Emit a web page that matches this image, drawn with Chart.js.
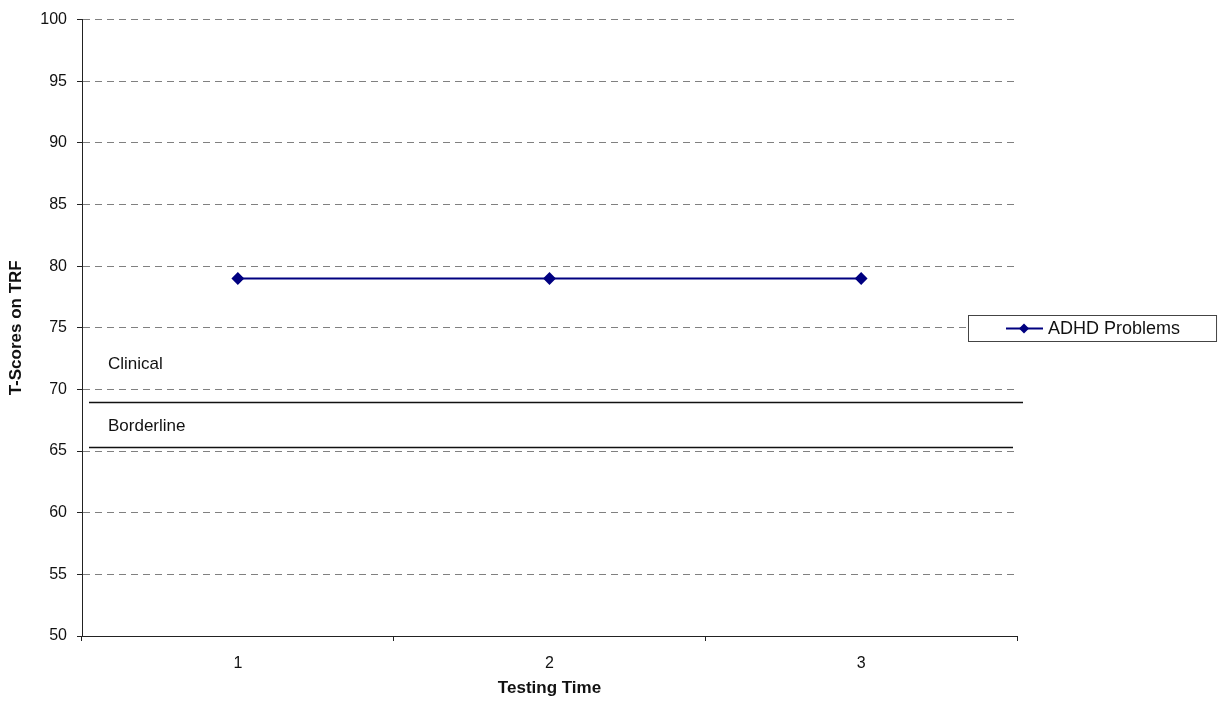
<!DOCTYPE html>
<html>
<head>
<meta charset="utf-8">
<script src="https://cdn.jsdelivr.net/npm/chart.js@4.4.1/dist/chart.umd.min.js"></script>
<style>
  html, body { margin: 0; padding: 0; background: #fff; }
  #wrap { width: 1219px; height: 701px; }
</style>
</head>
<body>
<div id="wrap"><canvas id="chart"></canvas></div>
<script>
const testingTimes = ['1', '2', '3'];
const adhdScores = [79, 79, 79];
const seriesLabel = 'ADHD Problems';

// cut-off lines and the zone names written above them
const cutoffValues = [69, 65.35];
const zoneLabels = ['Clinical', 'Borderline'];
const zoneLabelValues = [72, 67];

const FONT = '"Liberation Sans", Arial, sans-serif';

const cutoffPlugin = {
  id: 'cutoffs',
  afterDatasetsDraw(chart) {
    const {ctx, chartArea, scales: {y}} = chart;
    ctx.save();
    ctx.strokeStyle = '#111';
    ctx.lineWidth = 1.5;
    const rightEnds = [chartArea.right + 6, chartArea.right - 4];
    cutoffValues.forEach((v, i) => {
      const py = Math.round(y.getPixelForValue(v)) + 0.5;
      ctx.beginPath();
      ctx.moveTo(chartArea.left + 7, py);
      ctx.lineTo(rightEnds[i], py);
      ctx.stroke();
    });
    ctx.fillStyle = '#111';
    ctx.font = '17px ' + FONT;
    ctx.textAlign = 'left';
    ctx.textBaseline = 'middle';
    zoneLabels.forEach((t, i) => {
      ctx.fillText(t, chartArea.left + 26, y.getPixelForValue(zoneLabelValues[i]));
    });
    ctx.restore();
  }
};

// boxed legend sitting over the right end of the plot
const boxLegendPlugin = {
  id: 'boxLegend',
  afterDraw(chart) {
    const {ctx, chartArea} = chart;
    const ds = chart.data.datasets[0];
    ctx.save();
    ctx.font = '18px ' + FONT;
    const textW = ctx.measureText(ds.label).width;
    const left = chartArea.right - 49;
    const h = 26;
    const w = 38 + 37 + 5 + textW + 36;
    const top = Math.round((chartArea.top + chartArea.bottom) / 2 - h / 2);
    ctx.fillStyle = '#fff';
    ctx.fillRect(left, top, w, h);
    ctx.strokeStyle = '#444';
    ctx.lineWidth = 1;
    ctx.strokeRect(left + 0.5, top + 0.5, w, h);
    const cy = top + h / 2 + 0.5;
    ctx.strokeStyle = ds.borderColor;
    ctx.lineWidth = 2;
    ctx.beginPath();
    ctx.moveTo(left + 38, cy);
    ctx.lineTo(left + 75, cy);
    ctx.stroke();
    ctx.fillStyle = ds.pointBackgroundColor;
    const mx = left + 56, r = 5;
    ctx.beginPath();
    ctx.moveTo(mx, cy - r);
    ctx.lineTo(mx + r, cy);
    ctx.lineTo(mx, cy + r);
    ctx.lineTo(mx - r, cy);
    ctx.closePath();
    ctx.fill();
    ctx.fillStyle = '#111';
    ctx.textAlign = 'left';
    ctx.textBaseline = 'middle';
    ctx.fillText(ds.label, left + 80, cy + 1);
    ctx.restore();
  }
};

new Chart(document.getElementById('chart').getContext('2d'), {
  type: 'line',
  data: {
    labels: testingTimes,
    datasets: [{
      label: seriesLabel,
      data: adhdScores,
      borderColor: '#000080',
      backgroundColor: '#000080',
      pointBackgroundColor: '#000080',
      pointBorderColor: '#000080',
      borderWidth: 2,
      pointStyle: 'rectRot',
      pointRadius: 5,
      tension: 0
    }]
  },
  options: {
    responsive: true,
    maintainAspectRatio: false,
    animation: false,
    layout: { padding: { top: 17, right: 202, left: 0, bottom: 0 } },
    scales: {
      x: {
        offset: true,
        afterFit: s => { s.height = 65; },
        grid: { offset: true, drawOnChartArea: false, drawTicks: true, tickLength: 5, color: '#222' },
        border: { color: '#222', width: 1 },
        ticks: { color: '#111', padding: 13, font: { family: FONT, size: 16 } },
        title: { display: true, text: 'Testing Time', color: '#111', padding: { top: 0, bottom: 2 },
          font: { family: FONT, size: 17, weight: 'bold' } }
      },
      y: {
        min: 50,
        max: 100,
        afterFit: s => { s.width = 82; },
        ticks: { stepSize: 5, color: '#111', padding: 10, font: { family: FONT, size: 16 } },
        grid: {
          color: c => c.tick && c.tick.value === 50 ? 'rgba(0,0,0,0)' : '#808080',
          tickColor: '#222',
          tickLength: 5,
          lineWidth: 1
        },
        border: { color: '#222', width: 1, dash: [7, 5] },
        title: { display: true, text: 'T-Scores on TRF', color: '#111', padding: { top: 6, bottom: 0 },
          font: { family: FONT, size: 17, weight: 'bold' } }
      }
    },
    plugins: {
      legend: { display: false },
      tooltip: { enabled: false }
    }
  },
  plugins: [cutoffPlugin, boxLegendPlugin]
});
</script>
</body>
</html>
